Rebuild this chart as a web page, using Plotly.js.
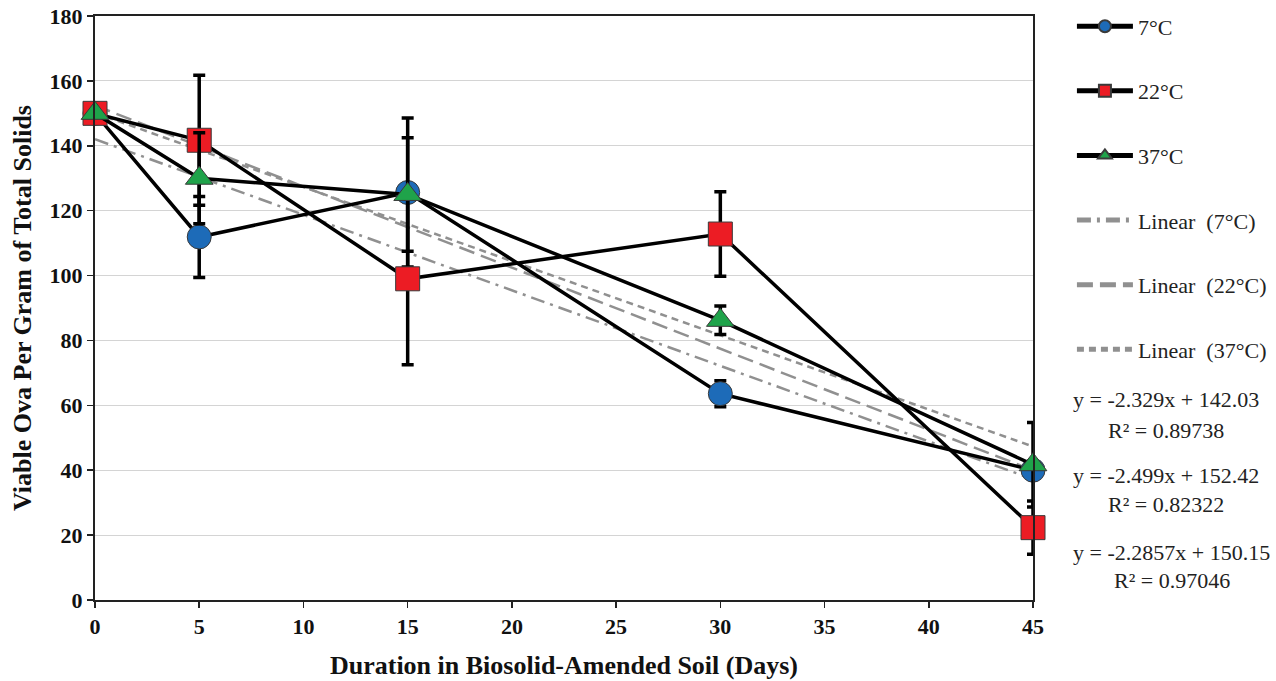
<!DOCTYPE html>
<html>
<head>
<meta charset="utf-8">
<script src="https://cdn.plot.ly/plotly-3.0.1.min.js"></script>
<style>html,body{margin:0;padding:0;background:#fff;}#chart{width:1276px;height:681px;}</style>
</head>
<body>
<div id="chart"></div>
<script>
// ---- data ----
const days = [0, 5, 15, 30, 45];

const names = ["7°C", "22°C", "37°C"];
const vals7  = [150, 111.9, 125.6, 63.6, 40.0];
const vals22 = [150, 141.7, 99.0, 112.8, 22.3];
const vals37 = [150, 130.0, 125.0, 86.2, 41.7];

const err7  = [0, 12.5, 23.0, 4.0, 2.0];
const err22 = [0, 20.0, 26.5, 13.0, 8.2];
const err37 = [0, 14.0, 17.5, 4.4, 13.0];

// linear trendlines as displayed on the chart
const trendNames = ["Linear\u00a0\u00a0(7°C)", "Linear\u00a0\u00a0(22°C)", "Linear\u00a0\u00a0(37°C)"];
const trendSlope = [-2.329, -2.499, -2.2857];
const trendIntercept = [142.03, 152.42, 150.15];
const trendX = [0, 45];

const eqLines = ["y = -2.329x + 142.03", "R² = 0.89738",
                 "y = -2.499x + 152.42", "R² = 0.82322",
                 "y = -2.2857x + 150.15", "R² = 0.97046"];

const yTicks = [0, 20, 40, 60, 80, 100, 120, 140, 160, 180];
const xTicks = [0, 5, 10, 15, 20, 25, 30, 35, 40, 45];

// ---- styling ----
const serif = "Liberation Serif";
const markerColors = ["#1d6bb8", "#ec1c24", "#1fa34a"];
const markerSymbols = ["circle", "square", "triangle-up"];
const trendDash = ["14px,6px,3px,6px", "16px,7px", "7px,5px"];
const allVals = [vals7, vals22, vals37];
const allErr = [err7, err22, err37];

const traces = [];
for (let i = 0; i < 3; i++) {
  traces.push({
    x: trendX,
    y: trendX.map(d => trendSlope[i] * d + trendIntercept[i]),
    mode: "lines",
    name: trendNames[i],
    legendgroup: "t" + i,
    legendrank: 4 + i,
    line: {color: "#909090", width: 2.5, dash: trendDash[i]},
    hoverinfo: "skip"
  });
}
for (let i = 0; i < 3; i++) {
  traces.push({
    x: days,
    y: allVals[i],
    mode: "lines+markers",
    name: names[i],
    legendgroup: "d" + i,
    legendrank: 1 + i,
    cliponaxis: false,
    line: {color: "#000", width: 3.5},
    marker: {symbol: markerSymbols[i], color: markerColors[i], size: 24,
             line: {color: "#3a3a3a", width: 1}},
    error_y: {type: "data", array: allErr[i], visible: true, color: "#000", thickness: 3.5, width: 6}
  });
}

const eqX = [1.1418, 1.1418, 1.1418, 1.1418, 1.148, 1.148];
const eqY = [0.3425, 0.2894, 0.214, 0.1627, 0.0805, 0.0342];
const annotations = eqLines.map((t, k) => ({
  text: t, xref: "paper", yref: "paper", x: eqX[k], y: eqY[k],
  xanchor: "center", yanchor: "middle", showarrow: false,
  font: {family: serif, size: 22, color: "#222"}
}));

const layout = {
  width: 1276, height: 681,
  margin: {l: 95, r: 243, t: 16, b: 81, autoexpand: false},
  paper_bgcolor: "#fff", plot_bgcolor: "#fff",
  showlegend: true,
  legend: {
    x: 1.0415, xanchor: "left", yref: "container", y: 0.992, yanchor: "top",
    font: {family: serif, size: 22, color: "#222"},
    traceorder: "grouped", tracegroupgap: 33, maxheight: 660,
    itemsizing: "constant", itemwidth: 56,
    bgcolor: "rgba(0,0,0,0)"
  },
  xaxis: {
    range: [0, 45], tickvals: xTicks, ticktext: xTicks.map(String),
    showgrid: false, zeroline: false,
    showline: true, linecolor: "#222", linewidth: 2, mirror: true,
    ticks: "outside", ticklen: 6, tickcolor: "#222", tickwidth: 1.5,
    tickfont: {family: serif, size: 22, color: "#111", weight: "bold"},
    title: {text: "<b>Duration in Biosolid-Amended Soil (Days)</b>",
            font: {family: serif, size: 26, color: "#111"}, standoff: 17}
  },
  yaxis: {
    range: [0, 180], tickvals: yTicks, ticktext: yTicks.map(String),
    showgrid: true, gridcolor: "#d4d4d4", gridwidth: 1.2, zeroline: false,
    showline: true, linecolor: "#222", linewidth: 2, mirror: true,
    ticks: "outside", ticklen: 6, tickcolor: "#222", tickwidth: 1.5,
    tickfont: {family: serif, size: 22, color: "#111", weight: "bold"},
    title: {text: "<b>Viable Ova Per Gram of Total Solids</b>",
            font: {family: serif, size: 26, color: "#111"}, standoff: 10}
  },
  annotations: annotations
};

Plotly.newPlot("chart", traces, layout, {displayModeBar: false, staticPlot: true});
</script>
</body>
</html>
